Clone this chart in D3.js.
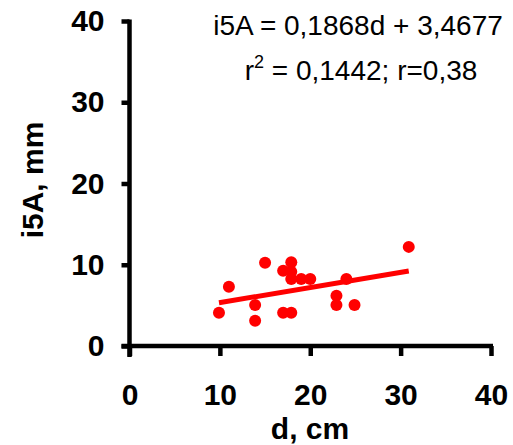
<!DOCTYPE html>
<html>
<head>
<meta charset="utf-8">
<script src="https://cdn.jsdelivr.net/npm/d3@7"></script>
<style>
  body { margin: 0; background: #fff; }
  text { font-family: "Liberation Sans", Arial, sans-serif; }
</style>
</head>
<body>
<div id="chart"></div>
<script>
// diameter, cm
var dValues = [9.9, 11, 13.9, 13.9, 15, 17, 17, 17.9, 17.9, 17.9, 17.9, 19, 20, 22.9, 22.9, 24, 24.9, 30.9]
// i5A, mm
var i5aValues = [4.1, 7.3, 5.05, 3.1, 10.25, 9.25, 4.1, 4.1, 10.3, 9.15, 8.25, 8.25, 8.25, 6.2, 5.05, 8.25, 5.05, 12.2]
var xTicks = [0, 10, 20, 30, 40]
var yTicks = [0, 10, 20, 30, 40]
var slope = 0.1868
var intercept = 3.4677
var eqLine1 = 'i5A = 0,1868d + 3,4677'
var eqLine2a = 'r'
var eqLine2sup = '2'
var eqLine2b = ' = 0,1442; r=0,38'

var width = 513, height = 445

var svg = d3.select('#chart')
    .append('svg')
    .attr('width', width)
    .attr('height', height)

var x = d3.scaleLinear().domain([0, 40]).range([129.5, 491])
var y = d3.scaleLinear().domain([0, 40]).range([346, 21])

// y axis
var axisY = svg.append('g')
    .attr('transform', `translate(${x(0)},0)`)
    .call(d3.axisLeft(y).tickValues(yTicks).tickSize(8).tickPadding(17).tickSizeOuter(0))
axisY.select('.domain').remove()
axisY.append('line')
    .attr('x1', 0).attr('x2', 0)
    .attr('y1', y(40) - 1.5).attr('y2', y(0) + 11)
    .attr('stroke', '#000').attr('stroke-width', 4.5)

// x axis
var axisX = svg.append('g')
    .attr('transform', `translate(0,${y(0)})`)
    .call(d3.axisBottom(x).tickValues(xTicks).tickSize(10).tickPadding(28).tickSizeOuter(0))
axisX.select('.domain').remove()
axisX.append('line')
    .attr('x1', x(0) - 8).attr('x2', x(40) + 2)
    .attr('y1', 0).attr('y2', 0)
    .attr('stroke', '#000').attr('stroke-width', 4.5)

svg.selectAll('.tick line').attr('stroke', '#000').attr('stroke-width', 4.5)
svg.selectAll('.tick text')
    .attr('fill', '#000')
    .style('font-size', '30px')
    .style('font-weight', 'bold')
    .style('font-family', '"Liberation Sans", Arial, sans-serif')
axisX.selectAll('.tick text').attr('dy', '0.71em')

// points
var points = dValues.map((d, i) => ({ d: d, v: i5aValues[i] }))
svg.append('g')
  .selectAll('circle')
  .data(points)
  .enter()
  .append('circle')
    .attr('cx', p => x(p.d))
    .attr('cy', p => y(p.v))
    .attr('r', 6)
    .attr('fill', '#ff0000')

// trend line
var dExt = d3.extent(dValues)
svg.append('line')
    .attr('x1', x(dExt[0])).attr('y1', y(slope * dExt[0] + intercept))
    .attr('x2', x(dExt[1])).attr('y2', y(slope * dExt[1] + intercept))
    .attr('stroke', '#ff0000')
    .attr('stroke-width', 5)

// equation
svg.append('text')
    .attr('x', 358).attr('y', 35)
    .attr('text-anchor', 'middle')
    .style('font-size', '28px')
    .text(eqLine1)
var eq2 = svg.append('text')
    .attr('x', 361).attr('y', 80)
    .attr('text-anchor', 'middle')
    .style('font-size', '28px')
eq2.append('tspan').text(eqLine2a)
eq2.append('tspan').attr('dy', -12).style('font-size', '18px').text(eqLine2sup)
eq2.append('tspan').attr('dy', 12).text(eqLine2b)

// axis titles
svg.append('text')
    .attr('transform', 'translate(43,180) rotate(-90)')
    .attr('text-anchor', 'middle')
    .style('font-size', '30px')
    .style('font-weight', 'bold')
    .text('i5A, mm')
svg.append('text')
    .attr('x', 310).attr('y', 439)
    .attr('text-anchor', 'middle')
    .style('font-size', '30px')
    .style('font-weight', 'bold')
    .text('d, cm')
</script>
</body>
</html>
